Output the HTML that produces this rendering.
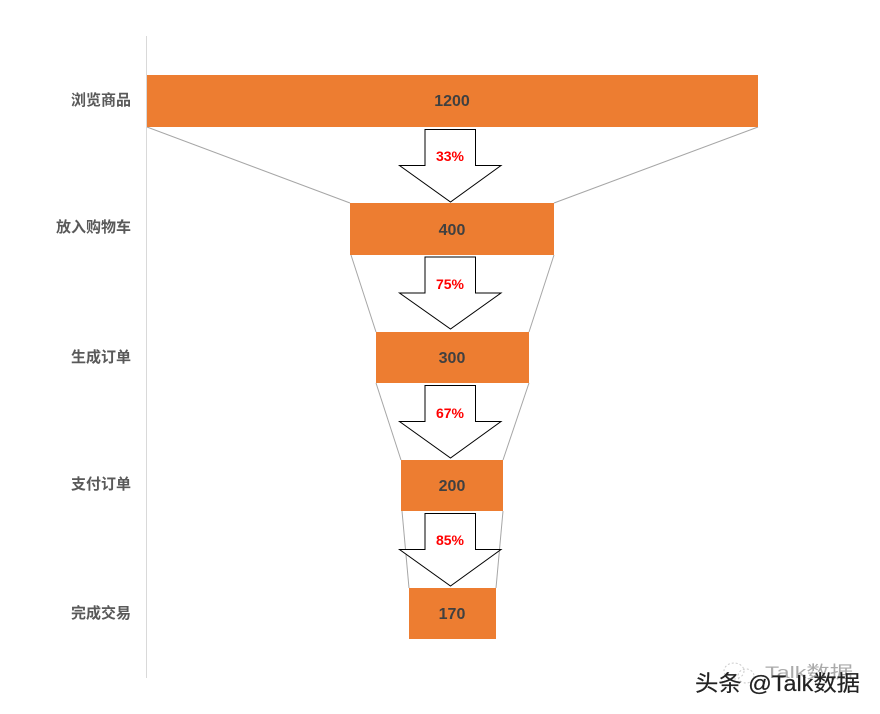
<!DOCTYPE html>
<html>
<head>
<meta charset="utf-8">
<style>
html,body{margin:0;padding:0;background:#fff;width:880px;height:714px;overflow:hidden}
svg{display:block}
.l{font:bold 15px "Liberation Sans","Noto Sans CJK SC",sans-serif;fill:#595959;text-anchor:end}
.v{font:bold 16px "Liberation Sans","Noto Sans CJK SC",sans-serif;fill:#404040;text-anchor:middle}
.p{font:bold 14px "Liberation Sans","Noto Sans CJK SC",sans-serif;fill:#ff0000;text-anchor:middle}
.w{font:22px "Liberation Sans","Noto Sans CJK SC",sans-serif;fill:#222;stroke:#222;stroke-width:.2px}
.g{font:17px "Liberation Sans","Noto Sans CJK SC",sans-serif;fill:#aaa}
</style>
</head>
<body>
<svg width="880" height="714" viewBox="0 0 880 714" xmlns="http://www.w3.org/2000/svg">
<rect width="880" height="714" fill="#fff"/>
<line x1="146.500" y1="36" x2="146.500" y2="678" stroke="#d9d9d9" stroke-width="1"/>
<g stroke="#a6a6a6" stroke-width="1" fill="none">
<line x1="147" y1="127" x2="350" y2="203"/><line x1="758" y1="127" x2="554" y2="203"/>
<line x1="351" y1="255" x2="376" y2="332"/><line x1="554" y1="255" x2="529" y2="332"/>
<line x1="376" y1="383" x2="401" y2="460"/><line x1="529" y1="383" x2="503" y2="460"/>
<line x1="402" y1="511" x2="409" y2="588"/><line x1="503" y1="511" x2="496" y2="588"/>
</g>
<g fill="#ed7d31">
<rect x="147" y="75" width="611" height="52"/>
<rect x="350" y="203" width="204" height="52"/>
<rect x="376" y="332" width="153" height="51"/>
<rect x="401" y="460" width="102" height="51"/>
<rect x="409" y="588" width="87" height="51"/>
</g>
<g fill="#fff" stroke="#000" stroke-width="1">
<path d="M425 129.500H475.500V165.500H501L450.500 202L399.500 165.500H425Z"/>
<path d="M425 257H475.500V293H501L450.500 329L399.500 293H425Z"/>
<path d="M425 385.500H475.500V421.500H501L450.500 458L399.500 421.500H425Z"/>
<path d="M425 513.500H475.500V549.500H501L450.500 586L399.500 549.500H425Z"/>
</g>
<text class="l" x="131" y="105">浏览商品</text>
<text class="l" x="131" y="232">放入购物车</text>
<text class="l" x="131" y="362">生成订单</text>
<text class="l" x="131" y="489">支付订单</text>
<text class="l" x="131" y="618">完成交易</text>
<text class="v" x="452" y="106">1200</text>
<text class="v" x="452" y="235">400</text>
<text class="v" x="452" y="363">300</text>
<text class="v" x="452" y="491">200</text>
<text class="v" x="452" y="619">170</text>
<text class="p" x="450" y="161">33%</text>
<text class="p" x="450" y="289">75%</text>
<text class="p" x="450" y="418">67%</text>
<text class="p" x="450" y="545">85%</text>
<g fill="none" stroke="#ccc" stroke-width="1" stroke-dasharray="2 2">
<ellipse cx="734" cy="671" rx="10" ry="8"/><ellipse cx="746" cy="676" rx="8" ry="7"/>
</g>
<text class="g" x="765" y="678" textLength="88" lengthAdjust="spacingAndGlyphs">Talk数据</text>
<text class="w" x="695" y="691" textLength="165" lengthAdjust="spacingAndGlyphs">头条 @Talk数据</text>
</svg>
</body>
</html>
